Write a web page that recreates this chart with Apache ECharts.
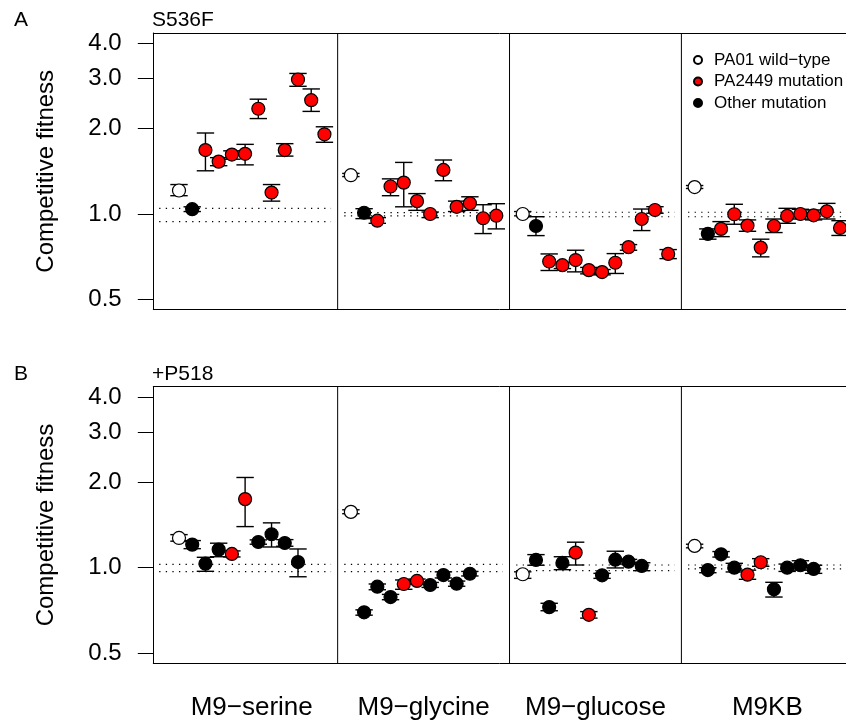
<!DOCTYPE html>
<html>
<head>
<meta charset="utf-8">
<title>Competitive fitness</title>
<script src="https://cdn.jsdelivr.net/npm/echarts@6/dist/echarts.min.js"></script>
<style>
  html, body { margin: 0; padding: 0; background: #fff; }
  #chart { width: 846px; height: 727px; }
</style>
</head>
<body>
<div id="chart"></div>
<script>
// media (x-axis groups)
var conditions = ["M9\u2212serine", "M9\u2212glycine", "M9\u2212glucose", "M9KB"];
var panelTags = ["A", "B"];
var panelTitles = ["S536F", "+P518"];
var tickValues = [0.5, 1, 2, 3, 4];
var tickLabels = ["0.5", "1.0", "2.0", "3.0", "4.0"];
var legendNames = ["PA01 wild\u2212type", "PA2449 mutation", "Other mutation"];

// panel A (S536F): strain type, fitness, lower and upper error per medium
var typeA = [
  ["wt", "other", "pa", "pa", "pa", "pa", "pa", "pa", "pa", "pa", "pa", "pa"],
  ["wt", "other", "pa", "pa", "pa", "pa", "pa", "pa", "pa", "pa", "pa", "pa"],
  ["wt", "other", "pa", "pa", "pa", "pa", "pa", "pa", "pa", "pa", "pa", "pa"],
  ["wt", "other", "pa", "pa", "pa", "pa", "pa", "pa", "pa", "pa", "pa", "pa"]
];
var fitA = [
  [1.21, 1.04, 1.68, 1.53, 1.62, 1.63, 2.35, 1.19, 1.68, 2.98, 2.52, 1.91],
  [1.37, 1.01, 0.947, 1.25, 1.29, 1.11, 1.0, 1.43, 1.06, 1.09, 0.966, 0.986],
  [1.0, 0.907, 0.68, 0.66, 0.688, 0.634, 0.624, 0.673, 0.764, 0.96, 1.033, 0.723],
  [1.244, 0.851, 0.886, 0.998, 0.91, 0.761, 0.907, 0.984, 1.0, 0.989, 1.022, 0.893]
];
var loA = [
  [1.16, 1.02, 1.42, 1.48, 1.56, 1.49, 2.17, 1.11, 1.6, 2.82, 2.3, 1.79],
  [1.355, 0.963, 0.927, 1.16, 1.06, 1.03, 0.971, 1.31, 1.02, 1.03, 0.853, 0.886],
  [0.985, 0.839, 0.632, 0.642, 0.625, 0.615, 0.61, 0.617, 0.745, 0.874, 1.006, 0.696],
  [1.23, 0.815, 0.832, 0.92, 0.869, 0.706, 0.86, 0.927, 0.96, 0.953, 0.96, 0.84]
];
var hiA = [
  [1.27, 1.06, 1.93, 1.58, 1.67, 1.76, 2.54, 1.27, 1.77, 3.13, 2.76, 2.03],
  [1.39, 1.044, 0.971, 1.33, 1.52, 1.18, 1.016, 1.55, 1.11, 1.15, 1.078, 1.087],
  [1.02, 0.978, 0.723, 0.676, 0.745, 0.648, 0.637, 0.725, 0.78, 1.041, 1.061, 0.749],
  [1.26, 0.886, 0.94, 1.082, 0.953, 0.815, 0.96, 1.047, 1.039, 1.033, 1.09, 0.947]
];
var dotHiA = [1.047, 1.011, 1.014, 1.014];
var dotLoA = [0.94, 0.984, 0.978, 0.978];

// panel B (+P518)
var typeB = [
  ["wt", "other", "other", "other", "pa", "pa", "other", "other", "other", "other"],
  ["wt", "other", "other", "other", "pa", "pa", "other", "other", "other", "other"],
  ["wt", "other", "other", "other", "pa", "pa", "other", "other", "other", "other"],
  ["wt", "other", "other", "other", "pa", "pa", "other", "other", "other", "other"]
];
var fitB = [
  [1.273, 1.206, 1.033, 1.158, 1.118, 1.745, 1.232, 1.312, 1.222, 1.047],
  [1.573, 0.696, 0.857, 0.788, 0.876, 0.898, 0.869, 0.942, 0.878, 0.952],
  [0.948, 1.065, 0.726, 1.039, 1.13, 0.682, 0.94, 1.067, 1.05, 1.014],
  [1.193, 0.981, 1.115, 1.0, 0.945, 1.045, 0.839, 1.0, 1.02, 0.99]
];
var loB = [
  [1.24, 1.167, 0.971, 1.093, 1.091, 1.396, 1.21, 1.183, 1.19, 0.929],
  [1.55, 0.68, 0.836, 0.771, 0.839, 0.876, 0.852, 0.92, 0.86, 0.935],
  [0.917, 1.02, 0.705, 0.984, 1.022, 0.664, 0.917, 0.998, 1.03, 0.976],
  [1.175, 0.96, 1.09, 0.966, 0.91, 1.011, 0.788, 0.97, 0.98, 0.955]
];
var hiB = [
  [1.308, 1.246, 1.088, 1.22, 1.146, 2.08, 1.253, 1.439, 1.256, 1.164],
  [1.6, 0.71, 0.876, 0.805, 0.905, 0.912, 0.887, 0.967, 0.897, 0.97],
  [0.967, 1.112, 0.749, 1.093, 1.23, 0.7, 0.955, 1.143, 1.07, 1.041],
  [1.21, 1.0, 1.14, 1.036, 0.98, 1.076, 0.888, 1.03, 1.058, 1.02]
];
var dotHiB = [1.028, 1.028, 1.022, 1.022];
var dotLoB = [0.968, 0.968, 0.976, 0.99];

var FONT = "'Liberation Sans', Arial, Helvetica, sans-serif";
var YMIN = -1.12, YMAX = 2.12;   // log2 range
var XMIN = -0.944, XMAX = 51.45;
var log2 = function (v) { return Math.log(v) / Math.LN2; };

var chart = echarts.init(document.getElementById("chart"));

var panels = [
  { type: typeA, fit: fitA, lo: loA, hi: hiA, dotHi: dotHiA, dotLo: dotLoA, top: 33 },
  { type: typeB, fit: fitB, lo: loB, hi: hiB, dotHi: dotHiB, dotLo: dotLoB, top: 386.7 }
];

function renderBar(params, api) {
  var x = api.value(0);
  var pLo = api.coord([x, api.value(1)]);
  var pHi = api.coord([x, api.value(2)]);
  var hw = 8.7;
  var st = { stroke: "#000", lineWidth: 1.4, fill: null };
  return {
    type: "group",
    children: [
      { type: "line", shape: { x1: pLo[0], y1: pLo[1], x2: pHi[0], y2: pHi[1] }, style: st },
      { type: "line", shape: { x1: pLo[0] - hw, y1: pLo[1], x2: pLo[0] + hw, y2: pLo[1] }, style: st },
      { type: "line", shape: { x1: pHi[0] - hw, y1: pHi[1], x2: pHi[0] + hw, y2: pHi[1] }, style: st }
    ]
  };
}

var grids = [], xAxes = [], yAxes = [], series = [], titles = [];
var tickPos = tickValues.map(log2);

panels.forEach(function (p, g) {
  grids.push({ left: 153.3, top: p.top, width: 846 - 153.3, height: 276.6 });

  // bottom axis (box edge, medium names on the lower panel)
  xAxes.push({
    type: "value", gridIndex: g, min: XMIN, max: XMAX, position: "bottom",
    axisLine: { show: true, onZero: false, lineStyle: { color: "#000", width: 1 } },
    axisTick: { show: false },
    splitLine: { show: false },
    axisLabel: {
      show: g === 1,
      customValues: [6.5, 19.5, 32.5, 45.5],
      margin: 32,
      color: "#000", fontSize: 26, fontFamily: FONT,
      formatter: function (v) {
        var i = [6.5, 19.5, 32.5, 45.5].indexOf(v);
        return i >= 0 ? conditions[i] : "";
      }
    }
  });
  // top edge of the box
  xAxes.push({
    type: "value", gridIndex: g, min: XMIN, max: XMAX, position: "top",
    axisLine: { show: true, onZero: false, lineStyle: { color: "#000", width: 1 } },
    axisTick: { show: false }, axisLabel: { show: false }, splitLine: { show: false }
  });

  yAxes.push({
    type: "value", gridIndex: g, min: YMIN, max: YMAX,
    name: "Competitive fitness", nameLocation: "middle", nameGap: 95,
    nameTextStyle: { color: "#000", fontSize: 24, fontFamily: FONT },
    axisLine: { show: true, onZero: false, lineStyle: { color: "#000", width: 1 } },
    axisTick: { show: true, length: 15.5, customValues: tickPos, lineStyle: { color: "#000", width: 1 } },
    splitLine: { show: false },
    axisLabel: {
      customValues: tickPos, margin: 31.6,
      color: "#000", fontSize: 24, fontFamily: FONT,
      formatter: function (v) {
        for (var i = 0; i < tickPos.length; i++) {
          if (Math.abs(tickPos[i] - v) < 1e-6) return tickLabels[i];
        }
        return "";
      }
    }
  });

  var bars = [], pts = { wt: [], pa: [], other: [] };
  conditions.forEach(function (c, ci) {
    p.fit[ci].forEach(function (v, k) {
      var x = ci * 13 + k + 1;
      bars.push([x, log2(p.lo[ci][k]), log2(p.hi[ci][k])]);
      pts[p.type[ci][k]].push([x, log2(v)]);
    });
  });

  // dotted reference lines
  conditions.forEach(function (c, ci) {
    var x0 = ci === 0 ? -0.5 : ci * 13 + 0.5;
    var x1 = ci * 13 + 12.5;
    [p.dotHi[ci], p.dotLo[ci]].forEach(function (d) {
      series.push({
        type: "line", xAxisIndex: g * 2, yAxisIndex: g, silent: true, symbol: "none",
        lineStyle: { color: "#000", width: 1.2, type: [1.3, 5.3] },
        data: [[x0, log2(d)], [x1, log2(d)]], z: 1
      });
    });
  });

  // vertical separators between media
  [13, 26, 39].forEach(function (s) {
    series.push({
      type: "line", xAxisIndex: g * 2, yAxisIndex: g, silent: true, symbol: "none",
      lineStyle: { color: "#000", width: 1 },
      data: [[s, YMIN], [s, YMAX]], z: 1
    });
  });

  series.push({
    type: "custom", xAxisIndex: g * 2, yAxisIndex: g, renderItem: renderBar,
    encode: { x: 0, y: [1, 2] }, data: bars, z: 2, silent: true, clip: false
  });

  var styles = {
    wt: { color: "#fff", borderColor: "#000", borderWidth: 1.2, opacity: 1 },
    pa: { color: "#ff0000", borderColor: "#000", borderWidth: 1.2, opacity: 1 },
    other: { color: "#000", borderColor: "#000", borderWidth: 1.2, opacity: 1 }
  };
  ["wt", "pa", "other"].forEach(function (t, ti) {
    series.push({
      name: legendNames[ti], type: "scatter", xAxisIndex: g * 2, yAxisIndex: g,
      symbol: "circle", symbolSize: 13, itemStyle: styles[t], data: pts[t], z: 3, silent: true
    });
  });

  titles.push({
    text: panelTags[g], left: 9, top: p.top - 28,
    textStyle: { color: "#000", fontSize: 21, fontWeight: "normal", fontFamily: FONT }
  });
  titles.push({
    text: panelTitles[g], left: 147, top: p.top - 28,
    textStyle: { color: "#000", fontSize: 21, fontWeight: "normal", fontFamily: FONT }
  });
});

var option = {
  backgroundColor: "#fff",
  animation: false,
  title: titles,
  grid: grids,
  xAxis: xAxes,
  yAxis: yAxes,
  legend: {
    orient: "vertical", left: 688, top: 46.5,
    itemWidth: 22, itemHeight: 8, itemGap: 4.5,
    selectedMode: false,
    textStyle: { color: "#000", fontSize: 17, lineHeight: 17, fontFamily: FONT },
    data: legendNames
  },
  series: series
};

chart.setOption(option);
</script>
</body>
</html>
